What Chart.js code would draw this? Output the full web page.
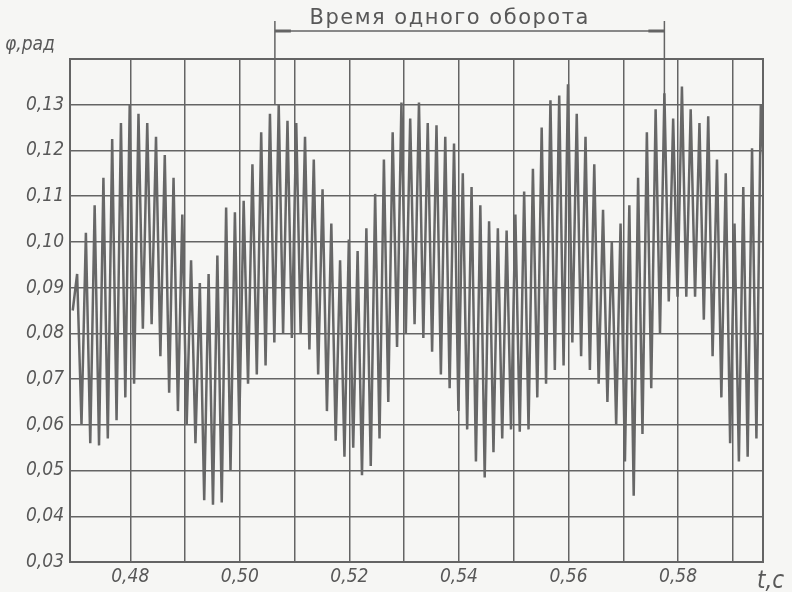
<!DOCTYPE html>
<html>
<head>
<meta charset="utf-8">
<script src="https://cdn.jsdelivr.net/npm/chart.js@4.4.1/dist/chart.umd.min.js"></script>
<style>
  html, body { margin: 0; padding: 0; background: #f6f6f4; }
  #wrap { width: 792px; height: 592px; position: relative; }
</style>
</head>
<body>
<div id="wrap"><canvas id="osc"></canvas></div>
<script>
// --- data ---
const tStart = 0.4695;      // left edge of the trace, s
const halfStep = 0.0008;    // half period of the fast oscillation, s
const startValue = 0.085;
const endValue = 0.110;

// peak of every cycle, rad
const peaks = [
  0.093, 0.102, 0.108, 0.114, 0.1225, 0.126, 0.130, 0.128, 0.126, 0.123,
  0.119, 0.114, 0.106, 0.096, 0.091, 0.093, 0.097, 0.1075, 0.1065, 0.109,
  0.117, 0.124, 0.128, 0.130, 0.1265, 0.126, 0.123, 0.118, 0.1115, 0.104,
  0.096, 0.1005, 0.098, 0.103, 0.1105, 0.118, 0.124, 0.1305, 0.127, 0.1305,
  0.126, 0.1255, 0.123, 0.1215, 0.115, 0.112, 0.108, 0.1045, 0.103, 0.1025,
  0.106, 0.111, 0.116, 0.125, 0.131, 0.132, 0.1345, 0.128, 0.123, 0.117,
  0.107, 0.100, 0.104, 0.108, 0.114, 0.124, 0.129, 0.1325, 0.127, 0.134,
  0.129, 0.126, 0.1275, 0.118, 0.115, 0.104, 0.112, 0.1205, 0.130
];
// trough of every cycle, rad
const troughs = [
  0.060, 0.056, 0.0555, 0.057, 0.061, 0.066, 0.069, 0.081, 0.082, 0.075,
  0.067, 0.063, 0.060, 0.056, 0.0435, 0.0425, 0.043, 0.050, 0.060, 0.069,
  0.071, 0.073, 0.078, 0.080, 0.079, 0.080, 0.0765, 0.071, 0.063, 0.0565,
  0.053, 0.055, 0.049, 0.051, 0.057, 0.065, 0.077, 0.080, 0.082, 0.079,
  0.076, 0.071, 0.068, 0.063, 0.059, 0.052, 0.0485, 0.054, 0.057, 0.059,
  0.0585, 0.059, 0.066, 0.069, 0.072, 0.073, 0.078, 0.075, 0.072, 0.069,
  0.065, 0.060, 0.052, 0.0445, 0.058, 0.068, 0.080, 0.087, 0.088, 0.088,
  0.088, 0.083, 0.075, 0.066, 0.056, 0.052, 0.053, 0.057
];

const xTicks = [0.48, 0.49, 0.50, 0.51, 0.52, 0.53, 0.54, 0.55, 0.56, 0.57, 0.58, 0.59];
const xLabelled = [0.48, 0.50, 0.52, 0.54, 0.56, 0.58];
const yTicks = [0.03, 0.04, 0.05, 0.06, 0.07, 0.08, 0.09, 0.10, 0.11, 0.12, 0.13, 0.14];
const yLabelled = [0.03, 0.04, 0.05, 0.06, 0.07, 0.08, 0.09, 0.10, 0.11, 0.12, 0.13];
const xMin = 0.469, xMax = 0.5955, yMin = 0.03, yMax = 0.14;

// one revolution bracket
const revStart = 0.5064, revEnd = 0.5775;
const revText = 'Время одного оборота';
const yTitle = 'φ,рад';
const xTitle = 't,c';

// --- build the trace: start, then peak/trough per cycle ---
const vals = [startValue];
peaks.forEach((p, k) => {
  vals.push(p);
  if (k < troughs.length) vals.push(troughs[k]);
});
vals.push(endValue);
const trace = vals.map((v, i) => ({ x: tStart + i * halfStep, y: v }));

const ink = '#646464';
const labelFont = { family: "'DejaVu Sans Condensed', 'DejaVu Sans', sans-serif", size: 19, style: 'italic' };
const fmt = v => v.toFixed(2).replace('.', ',');
const near = (arr, v) => arr.some(a => Math.abs(a - v) < 1e-6);

const framePlugin = {
  id: 'frame',
  afterDraw(chart) {
    const { ctx, chartArea: a, scales } = chart;
    ctx.save();
    ctx.strokeStyle = ink;
    ctx.lineWidth = 2;
    ctx.strokeRect(a.left, a.top, a.right - a.left, a.bottom - a.top);

    // bracket "one revolution"
    const x1 = scales.x.getPixelForValue(revStart);
    const x2 = scales.x.getPixelForValue(revEnd);
    const yb = 31;
    const yDown = scales.y.getPixelForValue(0.13);
    ctx.lineWidth = 1.5;
    ctx.beginPath();
    ctx.moveTo(x1, yb); ctx.lineTo(x2, yb);
    ctx.moveTo(x1, 21); ctx.lineTo(x1, yDown);
    ctx.moveTo(x2, 21); ctx.lineTo(x2, yDown);
    ctx.stroke();
    ctx.lineWidth = 3;
    ctx.beginPath();
    ctx.moveTo(x1, yb); ctx.lineTo(x1 + 16, yb);
    ctx.moveTo(x2 - 16, yb); ctx.lineTo(x2, yb);
    ctx.stroke();

    ctx.fillStyle = '#585858';
    ctx.font = "21px 'DejaVu Sans', sans-serif";
    ctx.letterSpacing = '1.5px';
    ctx.textAlign = 'center';
    ctx.textBaseline = 'alphabetic';
    ctx.fillText(revText, (x1 + x2) / 2 - 20, 24);
    ctx.letterSpacing = '0px';

    // axis titles
    ctx.font = "italic 19px 'DejaVu Sans Condensed', 'DejaVu Sans', sans-serif";
    ctx.textAlign = 'left';
    ctx.fillText(yTitle, 5, 50);
    ctx.font = "italic 24px 'DejaVu Sans Condensed', 'DejaVu Sans', sans-serif";
    ctx.fillText(xTitle, 757, 588);
    ctx.restore();
  }
};

new Chart(document.getElementById('osc'), {
  type: 'line',
  data: {
    datasets: [{
      data: trace,
      borderColor: '#676767',
      borderWidth: 2.5,
      pointRadius: 0,
      tension: 0,
      fill: false
    }]
  },
  options: {
    responsive: true,
    maintainAspectRatio: false,
    animation: false,
    events: [],
    layout: { padding: { top: 59, right: 29, left: 0, bottom: 0 } },
    plugins: { legend: { display: false }, tooltip: { enabled: false } },
    scales: {
      x: {
        type: 'linear',
        min: xMin,
        max: xMax,
        afterBuildTicks: s => { s.ticks = xTicks.map(v => ({ value: v })); },
        afterFit: s => { s.height = 30; },
        grid: { color: ink, lineWidth: 1.5, drawTicks: false },
        border: { display: false },
        ticks: {
          color: '#585858',
          font: labelFont,
          padding: 4,
          maxRotation: 0,
          autoSkip: false,
          callback: v => near(xLabelled, v) ? fmt(v) : ''
        }
      },
      y: {
        min: yMin,
        max: yMax,
        afterBuildTicks: s => { s.ticks = yTicks.map(v => ({ value: v })); },
        afterFit: s => { s.width = 70; },
        grid: { color: ink, lineWidth: 1.5, drawTicks: false },
        border: { display: false },
        ticks: {
          color: '#585858',
          font: labelFont,
          padding: 6,
          autoSkip: false,
          callback: v => near(yLabelled, v) ? fmt(v) : ''
        }
      }
    }
  },
  plugins: [framePlugin]
});
</script>
</body>
</html>
